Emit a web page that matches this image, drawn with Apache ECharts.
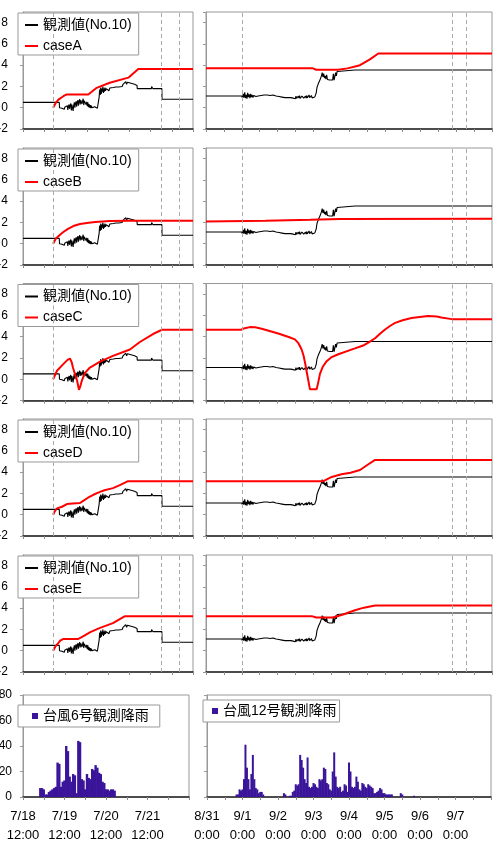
<!DOCTYPE html>
<html><head><meta charset="utf-8">
<script src="https://cdn.jsdelivr.net/npm/echarts@6/dist/echarts.min.js"></script>
<style>html,body{margin:0;padding:0;background:#fff}#c{width:497px;height:853px}</style>
</head><body><div id="c"></div>
<script>
// ---- tick labels ----
const leftTickLabels = ['7/18\n12:00','7/19\n12:00','7/20\n12:00','7/21\n12:00'];
const rightTickLabels = ['8/31\n0:00','9/1\n0:00','9/2\n0:00','9/3\n0:00','9/4\n0:00','9/5\n0:00','9/6\n0:00','9/7\n0:00'];
// ---- names ----
const obsName = '観測値(No.10)';
const caseNames = ['caseA','caseB','caseC','caseD','caseE'];
const rain6Name = '台風6号観測降雨';
const rain12Name = '台風12号観測降雨';
// ---- dashed reference times (hours from panel start) ----
const dashLeft = [17, 78, 88.5];
const dashRight = [24, 165, 175];
// ---- observed (hours from 7/18 12:00, value) ----
const obsLeft = [[0,0.5],[10,0.5],[17,0.5],[20.5,0.5],[20.6,0.0],[21.5,0.05],[22,-0.05],[22.5,0.0],[23,0.1],[23.3,-0.15],[23.6,0.05],[24,-0.1],[24.3,0.1],[24.6,-0.05],[25,0.2],[25.3,-0.2],[25.6,0.1],[26,0.3],[26.3,-0.1],[26.6,0.2],[27,0.4],[27.3,-0.25],[27.6,0.3],[28,0.35],[28.3,-0.3],[28.6,0.2],[29,0.5],[29.3,0.0],[29.6,0.4],[30,0.6],[30.3,0.1],[30.6,0.5],[31,0.7],[31.3,0.2],[31.6,0.6],[32,0.8],[32.3,0.3],[32.6,0.7],[33,0.75],[33.3,0.35],[33.6,0.6],[34,0.85],[34.3,0.25],[34.6,0.65],[35,0.5],[35.3,0.7],[35.6,0.3],[36,0.55],[36.3,0.15],[36.6,0.5],[37,0.05],[37.3,0.35],[37.6,0.0],[38,0.25],[38.3,-0.05],[38.6,0.2],[39,0.0],[39.5,0.15],[40,-0.05],[40.5,0.1],[41,0.0],[41.5,0.05],[42,-0.05],[42.5,0.0],[43,1.0],[43.3,1.7],[43.6,1.2],[43.9,1.9],[44.2,1.3],[44.5,1.8],[44.8,1.5],[45.1,2.0],[45.4,1.4],[45.7,1.8],[46,1.5],[46.3,1.9],[46.6,1.6],[47,1.8],[47.5,1.65],[48,1.9],[48.5,1.6],[49,1.85],[49.5,1.7],[50,1.8],[51,1.9],[51.5,2.0],[52,1.75],[52.5,1.95],[53,2.0],[54,1.95],[55,2.05],[56,2.0],[56.5,2.2],[57,2.1],[57.5,2.35],[58,2.45],[58.5,2.2],[59,2.4],[59.5,2.3],[60,2.45],[61,2.3],[61.5,2.2],[62,2.3],[63,2.2],[64,2.1],[64.4,2.1],[64.5,1.8],[68,1.8],[72.5,1.8],[72.6,2.0],[73,1.9],[73.3,1.8],[76,1.8],[78.4,1.8],[78.5,0.8],[85,0.8],[96,0.8]];
// ---- observed (hours from 8/31 0:00, value) ----
const obsRight = [[0,1.1],[12,1.1],[24,1.1],[24.5,0.9],[25,1.3],[25.5,0.95],[26,1.45],[26.5,0.9],[27,1.2],[27.5,0.85],[28,1.4],[28.5,1.0],[29,1.25],[29.5,0.9],[30,1.3],[30.5,1.0],[31,1.2],[31.5,0.95],[32,1.15],[32.5,1.0],[33,1.2],[33.5,1.05],[34,1.15],[35,1.1],[36,1.2],[37,1.15],[38,1.25],[39,1.2],[40,1.3],[41,1.2],[42,1.25],[43,1.15],[44,1.25],[45,1.2],[46,1.15],[47,1.1],[48,1.15],[49,1.05],[50,1.1],[51,1.0],[52,1.05],[53,0.95],[54,0.9],[55,0.95],[56,0.85],[57,0.95],[58,0.8],[58.5,0.9],[59,0.78],[59.5,0.95],[60,0.85],[60.4,1.1],[60.8,0.88],[61.2,1.05],[61.6,0.85],[62,1.1],[62.4,0.9],[62.8,1.15],[63.2,0.88],[63.6,1.05],[64,0.85],[64.4,1.1],[64.8,0.92],[65.2,1.2],[65.6,0.9],[66,1.05],[66.4,0.88],[66.8,1.1],[67.2,0.9],[67.6,1.15],[68,0.92],[68.4,1.1],[68.8,0.9],[69.2,1.2],[69.6,0.95],[70,1.1],[70.4,0.9],[70.8,1.15],[71.2,0.92],[71.6,1.1],[72,0.95],[72.5,1.05],[73,1.0],[74,1.4],[74.5,1.9],[75,2.1],[75.5,2.3],[76,2.2],[76.5,2.6],[77,2.5],[77.5,3.0],[78,3.3],[78.5,2.9],[79,3.2],[79.5,2.8],[80,3.0],[80.5,2.7],[81,3.1],[81.5,2.65],[82,2.8],[83,2.6],[84,2.7],[85,2.6],[85.5,3.2],[86,2.6],[86.5,2.5],[87,3.3],[87.5,3.0],[88,3.4],[88.6,3.55],[100,3.55],[120,3.55],[150,3.55],[170,3.55],[192,3.55]];
// ---- model cases ----
const caseALeft = [[17,0],[18.5,0.45],[20,0.76],[22.8,1.08],[24.7,1.25],[36.9,1.25],[41.6,1.87],[49,2.35],[59.5,2.83],[65.1,3.65],[96,3.65]];
const caseARight = [[0,3.7],[71.8,3.7],[74,3.57],[88.6,3.57],[95,3.7],[103.4,4.0],[110,4.55],[115.7,5.1],[192,5.1]];
const caseBLeft = [[17,0],[18.6,0.5],[20.9,0.85],[22.8,1.1],[25.4,1.4],[28.4,1.66],[32.2,1.85],[36,1.94],[40.7,2.05],[49,2.13],[60,2.15],[96,2.15]];
const caseBRight = [[0,2.1],[40,2.15],[70,2.25],[90,2.32],[192,2.35]];
const caseCLeft = [[17,0],[19.2,0.8],[22.6,1.4],[25,1.8],[26.5,1.95],[27.5,1.6],[28.2,1.1],[29.5,0.4],[30.5,-0.1],[31.6,-1.0],[32.3,-0.7],[33.3,-0.1],[35,0.6],[37.8,1.1],[43.5,1.65],[50.8,2.2],[60.4,2.8],[66,3.5],[73.4,4.25],[78.5,4.65],[96,4.65]];
const caseCRight = [[0,4.65],[23.5,4.65],[26,4.8],[29.5,4.9],[33,4.88],[37.4,4.75],[48.5,4.3],[56,3.95],[59.7,3.75],[62,3.4],[64.2,2.8],[65.5,2.2],[66.5,1.55],[68,0.4],[69.8,-0.95],[74.3,-0.95],[75.5,-0.2],[76.5,0.5],[78.5,1.2],[81,1.7],[84,2.05],[88.8,2.35],[100,2.9],[106,3.2],[109,3.45],[113.5,3.85],[117,4.3],[120,4.65],[124,5.05],[127,5.3],[132,5.55],[138,5.75],[149,5.95],[155,5.9],[158,5.8],[165,5.65],[192,5.65]];
const caseDLeft = [[17,0],[18,0.35],[19.2,0.6],[22,0.75],[23,0.85],[24.8,1.0],[28,1.05],[32.2,1.1],[34,1.3],[36.7,1.6],[40,1.9],[43.5,2.15],[46,2.3],[50.8,2.5],[55,2.8],[59.3,3.15],[96,3.15]];
const caseDRight = [[0,3.15],[78.8,3.15],[80,3.3],[84.4,3.55],[91,3.8],[97,3.95],[103.4,4.2],[108,4.65],[113.5,5.15],[192,5.15]];
const caseELeft = [[17,0],[18.3,0.4],[19.8,0.7],[21,0.95],[22.6,1.1],[31,1.1],[33.9,1.35],[38,1.75],[43.5,2.15],[50.8,2.6],[57.6,3.25],[96,3.25]];
const caseERight = [[0,3.25],[71,3.25],[74,3.12],[85.3,3.12],[92,3.4],[100,3.8],[106,4.05],[113.5,4.25],[192,4.25]];
// ---- rainfall (hour from panel start, mm) ----
const rain6 = [[10,7],[11,7],[12,6],[13,2],[14,2],[15,4],[16,5],[17,6],[18,7],[19,8],[20,27],[21,26],[22,8],[23,12],[24,13],[25,40],[26,36],[27,16],[28,12],[29,18],[30,17],[31,3],[32,44],[33,43],[34,14],[35,13],[36,6],[37,18],[38,15],[39,14],[40,22],[41,21],[42,25],[43,23],[44,19],[45,18],[46,12],[47,11],[48,6],[49,6],[50,5],[51,6],[52,6],[53,5]];
const rain12 = [[20,2],[21,2],[22,6],[23,5],[24,6],[25,14],[26,41],[27,23],[28,14],[29,6],[30,18],[31,33],[32,14],[33,7],[34,6],[35,3],[36,4],[37,4],[38,2],[52,3],[53,2],[56,1],[57,1],[58,4],[59,5],[60,10],[61,9],[62,10],[63,33],[64,29],[65,23],[66,14],[67,11],[68,31],[69,8],[70,7],[71,8],[72,11],[73,10],[74,8],[75,7],[76,14],[77,13],[78,14],[79,23],[80,22],[81,11],[82,10],[83,6],[84,5],[85,20],[86,35],[87,16],[88,8],[89,7],[90,8],[91,4],[92,5],[93,10],[94,9],[95,4],[96,27],[97,20],[98,8],[99,7],[100,8],[101,16],[102,12],[103,6],[104,5],[105,11],[106,10],[107,8],[108,7],[109,10],[110,9],[111,8],[112,7],[113,3],[114,3],[115,4],[116,5],[117,7],[118,6],[119,3],[120,3],[121,2],[122,2],[123,2],[124,2],[125,2],[131,3],[132,2],[140,1]];

const caseLeft = [caseALeft, caseBLeft, caseCLeft, caseDLeft, caseELeft];
const caseRight = [caseARight, caseBRight, caseCRight, caseDRight, caseERight];

const FONT = "'Liberation Sans','Noto Sans CJK JP',sans-serif";
const rowTops = [12, 148, 283.5, 419, 555];
const rowH = 117;
const L = {left: 23, width: 170}, R = {left: 206, width: 286};

const grid = [], xAxis = [], yAxis = [], series = [], legend = [];
function mkGrid(left, top, width, height) {
  return {left, top, width, height, show: true, borderColor: '#999', borderWidth: 1,
    containLabel: false, outerBoundsMode: 'none'};
}
function mkX(gi, max, labels) {
  return {
    type: 'value', gridIndex: gi, min: 0, max: max, interval: 12,
    axisLine: {show: true, onZero: false, lineStyle: {color: '#222', width: 1.5}},
    axisTick: {show: true, length: 3, lineStyle: {color: '#888'}},
    splitLine: {show: false},
    axisLabel: labels ? {
      show: true, fontSize: 13, lineHeight: 19, margin: 10, color: '#000', fontFamily: FONT,
      formatter: v => (v % 24 === 0 && labels[v / 24]) ? labels[v / 24] : ''
    } : {show: false}
  };
}
function mkY(gi, min, max, interval, showLabel, margin, showMax) {
  return {
    type: 'value', gridIndex: gi, min: min, max: max, interval: interval,
    axisLine: {show: true, onZero: false, lineStyle: {color: '#999', width: 1}},
    axisTick: {show: true, length: 3, lineStyle: {color: '#999'}},
    splitLine: {show: false},
    axisLabel: {show: showLabel, fontSize: 12, color: '#000', margin: margin, fontFamily: FONT, showMaxLabel: showMax}
  };
}
function dashML(vals) {
  return {silent: true, symbol: ['none','none'], label: {show: false},
    lineStyle: {color: '#aaa', type: [4,3], width: 1}, emphasis: {disabled: true},
    data: vals.map(v => ({xAxis: v}))};
}

for (let i = 0; i < 5; i++) {
  const gl = grid.length;
  grid.push(mkGrid(L.left, rowTops[i], L.width, rowH));
  xAxis.push(mkX(gl, 96, null));
  yAxis.push(mkY(gl, -2, 9, 2, true, 15, false));
  series.push({type: 'line', name: obsName, xAxisIndex: gl, yAxisIndex: gl, data: obsLeft, symbol: 'none', color: '#000',
    sampling: null, lineStyle: {color: '#000', width: 1.1}, markLine: dashML(dashLeft), z: 2});
  series.push({type: 'line', name: caseNames[i], xAxisIndex: gl, yAxisIndex: gl, data: caseLeft[i], symbol: 'none', color: '#ff0000',
    lineStyle: {color: '#ff0000', width: 2}, z: 3});
  legend.push({left: 18, top: rowTops[i] + 1, orient: 'vertical', data: [obsName, caseNames[i]], icon: 'rect',
    itemWidth: 13, itemHeight: 2, itemGap: 7, padding: [5, 7, 2, 7], backgroundColor: '#fff', borderColor: '#999', borderWidth: 1,
    selectedMode: false, textStyle: {fontSize: 14, color: '#000', fontFamily: FONT}});
  const gr = grid.length;
  grid.push(mkGrid(R.left, rowTops[i], R.width, rowH));
  xAxis.push(mkX(gr, 192, null));
  yAxis.push(mkY(gr, -2, 9, 2, false, 15, false));
  series.push({type: 'line', name: obsName, xAxisIndex: gr, yAxisIndex: gr, data: obsRight, symbol: 'none', color: '#000',
    sampling: null, lineStyle: {color: '#000', width: 1.1}, markLine: dashML(dashRight), z: 2});
  series.push({type: 'line', name: caseNames[i], xAxisIndex: gr, yAxisIndex: gr, data: caseRight[i], symbol: 'none', color: '#ff0000',
    lineStyle: {color: '#ff0000', width: 2}, z: 3});
}
const gb1 = grid.length;
grid.push(mkGrid(23, 695, 166, 102));
xAxis.push(mkX(gb1, 96, leftTickLabels));
yAxis.push(mkY(gb1, 0, 80, 20, true, 11, true));
series.push({type: 'bar', name: rain6Name, xAxisIndex: gb1, yAxisIndex: gb1, data: rain6, barWidth: 2.4, color: '#3a159a'});
const gb2 = grid.length;
grid.push(mkGrid(207, 695, 284, 102));
xAxis.push(mkX(gb2, 192, rightTickLabels));
yAxis.push(mkY(gb2, 0, 80, 20, false, 11, true));
series.push({type: 'bar', name: rain12Name, xAxisIndex: gb2, yAxisIndex: gb2, data: rain12, barWidth: 2.0, color: '#3a159a'});
legend.push({left: 18, top: 705, data: [rain6Name], icon: 'rect', itemWidth: 6, itemHeight: 6, padding: [4, 11, 4, 14],
  backgroundColor: '#fff', borderColor: '#999', borderWidth: 1, selectedMode: false, textStyle: {fontSize: 14, color: '#000', fontFamily: FONT}});
legend.push({left: 203, top: 700, data: [rain12Name], icon: 'rect', itemWidth: 6, itemHeight: 6, padding: [4, 3, 4, 9],
  backgroundColor: '#fff', borderColor: '#999', borderWidth: 1, selectedMode: false, textStyle: {fontSize: 14, color: '#000', fontFamily: FONT}});

const chart = echarts.init(document.getElementById('c'), null, {renderer: 'canvas'});
chart.setOption({animation: false, backgroundColor: '#fff', grid, xAxis, yAxis, series, legend});
</script>
</body></html>
